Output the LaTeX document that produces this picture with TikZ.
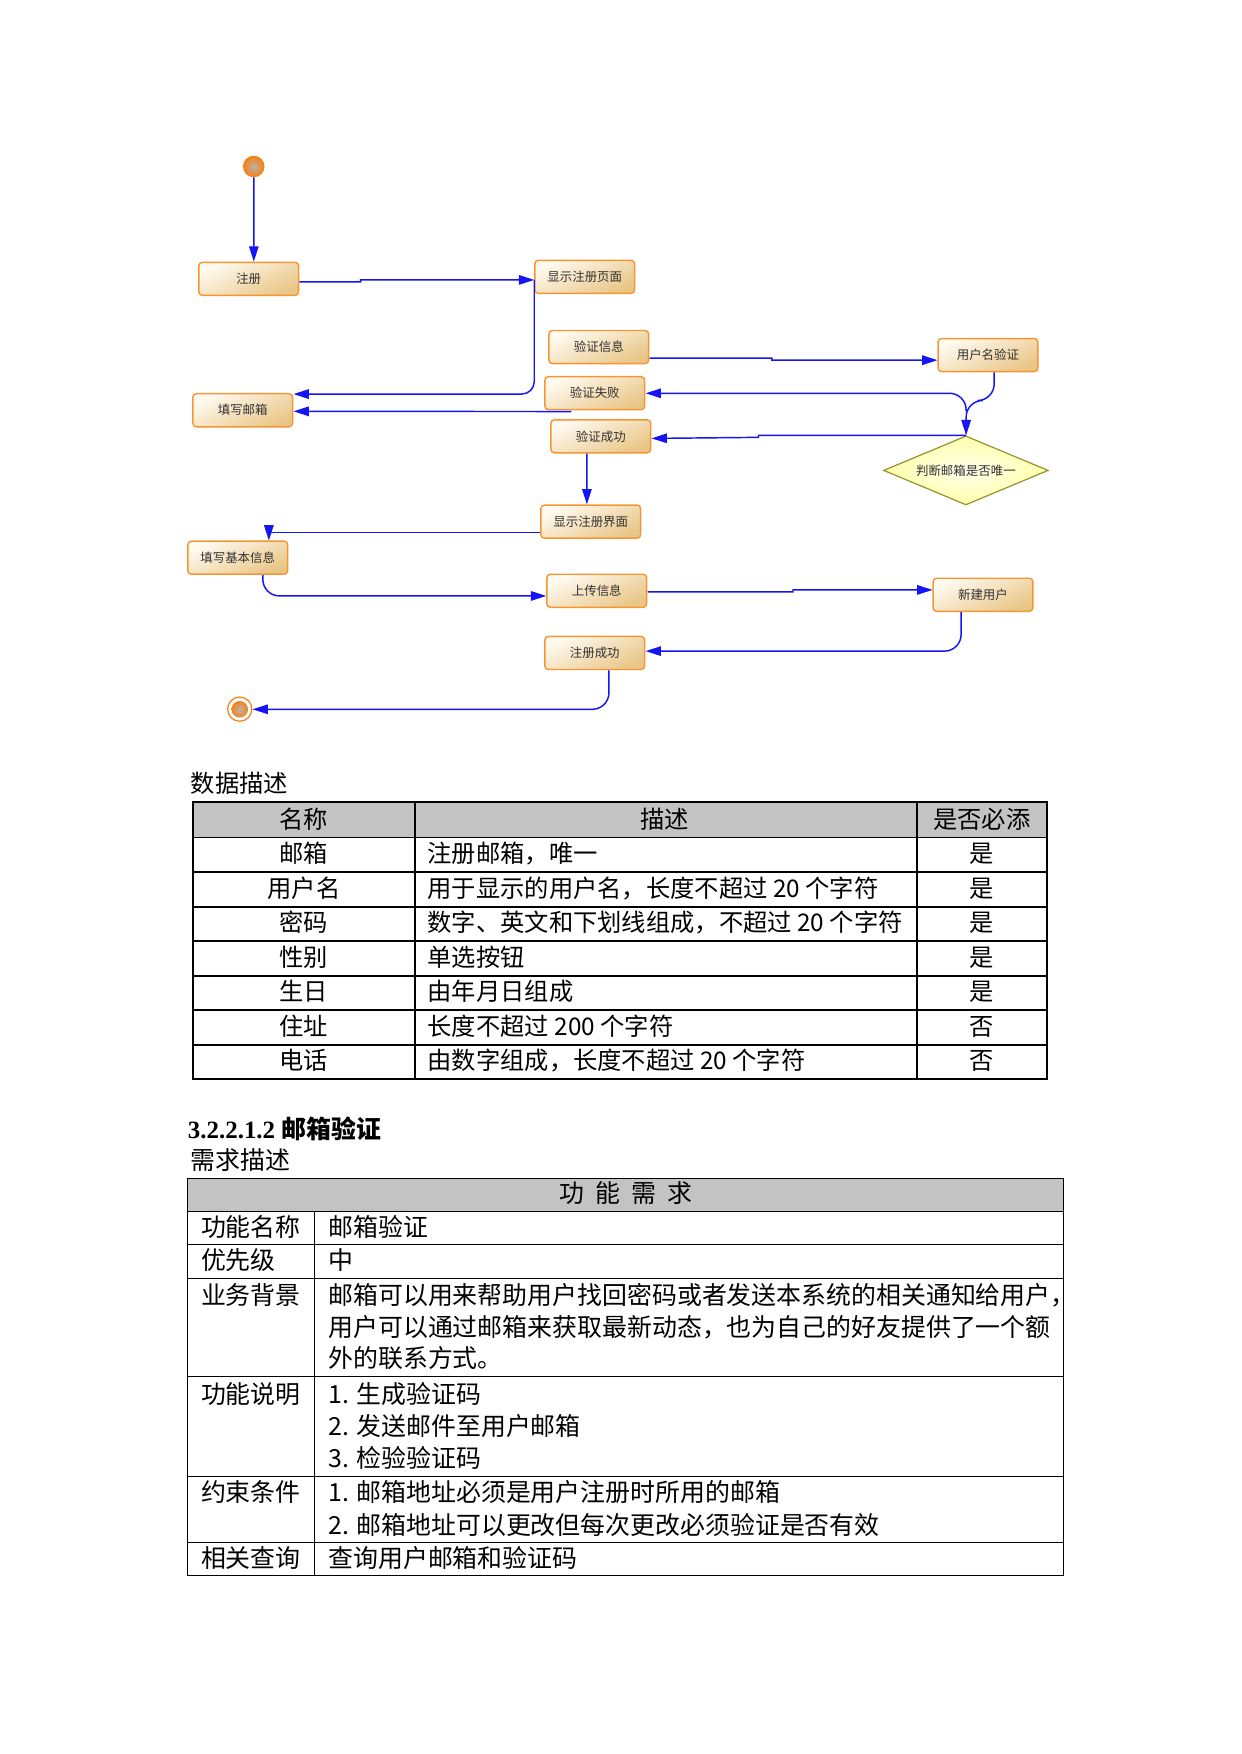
\documentclass[tikz,border=0pt]{standalone}
\usepackage{fontspec}
\setmainfont{Noto Sans CJK SC}
\newfontfamily\headnum{Liberation Serif}
\usetikzlibrary{shapes.geometric,arrows.meta,calc}

\definecolor{flowblue}{RGB}{20,20,245}
\definecolor{boxline}{RGB}{245,150,50}
\definecolor{boxtop}{RGB}{255,250,240}
\definecolor{boxbot}{RGB}{233,198,135}
\definecolor{boxtext}{RGB}{50,50,50}
\definecolor{choiceline}{RGB}{150,150,50}
\definecolor{choicein}{RGB}{255,255,235}
\definecolor{choiceout}{RGB}{255,255,170}
\definecolor{dotline}{RGB}{245,130,25}
\definecolor{dotin}{RGB}{185,178,170}
\definecolor{headgray}{RGB}{195,195,195}

\newcommand\boxfont{\fontsize{6}{7}\selectfont}
\newcommand\tabfont{\fontsize{11.7}{14}\selectfont}
\newcommand\reqfont{\fontsize{12}{14}\selectfont}

\tikzset{
  state/.style={draw=boxline, line width=0.7pt, rounded corners=0.6mm,
    top color=boxtop, bottom color=boxbot, shading angle=25,
    minimum width=16.9mm, minimum height=5.6mm, inner sep=0pt,
    font=\boxfont, text=boxtext},
  choice/.style={diamond, aspect=2.4, draw=choiceline, line width=0.6pt,
    inner color=choicein, outer color=choiceout,
    minimum width=27.9mm, minimum height=11.7mm, inner sep=0pt,
    font=\boxfont, text=boxtext},
  flow/.style={draw=flowblue, line width=0.7pt, -{Triangle[length=2.6mm,width=1.6mm]}},
  cell/.style={inner sep=0pt, font=\tabfont, text height=0.88em, text depth=0.12em},
  reqcell/.style={inner sep=0pt, font=\reqfont, text height=0.88em, text depth=0.12em},
}

\begin{document}
\begin{tikzpicture}[x=0.169333mm, y=-0.169333mm]
  \useasboundingbox (0,0) rectangle (1241,1754);
  \begin{scope}[scale=1.003]

  % activity diagram
  \node[circle, draw=dotline, line width=0.7pt, inner color=dotin, outer color=dotline,
    minimum size=3.4mm, inner sep=0pt] (init) at (253,166) {};
  \node[state] (reg) at (248,278) {注册};
  \node[state] (showpage) at (583,276) {显示注册页面};
  \node[state] (verify) at (597,346) {验证信息};
  \node[state] (uname) at (985,354) {用户名验证};
  \node[state] (fail) at (593,392) {验证失败};
  \node[state] (email) at (242,409) {填写邮箱};
  \node[state] (ok) at (599,435) {验证成功};
  \node[choice] (uniq) at (963,469) {判断邮箱是否唯一};
  \node[state] (showform) at (589,520) {显示注册界面};
  \node[state] (basic) at (237,556) {填写基本信息};
  \node[state] (upload) at (595,589) {上传信息};
  \node[state] (newuser) at (980,593) {新建用户};
  \node[state] (done) at (593,651) {注册成功};
  \node[circle, draw=dotline, line width=0.6pt, fill=white,
    minimum size=4.1mm, inner sep=0pt] (final) at (239,707) {};
  \node[circle, inner color=dotin, outer color=dotline,
    minimum size=2.8mm, inner sep=0pt] (finaldot) at (final) {};
  \coordinate (jn) at (963,410);

  \draw[flow] (init) -- (init |- reg.north);
  \draw[flow] ($(reg.east)+(0,3)$) -- ++(61,0) -- ++(0,-2) -- ($(showpage.west)+(0,3)$);
  \draw[flow, rounded corners=6] ($(showpage.west)+(0,3)$) |- ($(email.north east)+(0,1)$);
  \draw[flow] ($(fail.south west)+(27,1)$) -- ($(email.east)+(0,1)$);
  \draw[flow] ($(verify.east)+(0,11)$) -- ++(122,0) -- ++(0,2) -- ($(uname.west)+(0,5)$);
  \draw[flow, rounded corners=8] ($(uname.south)+(6,0)$) -- ++(0,28) -| (uniq.north);
  \draw[flow, rounded corners=8] (jn) |- (fail.east);
  \draw[flow] (uniq.north) -- ++(-207,0) -- ++(0,2) -- ($(ok.east)+(0,2)$);
  \draw[flow] ($(ok.south)+(-14,0)$) -- ($(showform.north)+(-4,0)$);
  \draw[flow] ($(showform.west)+(0,11)$) -| ($(basic.north)+(31,0)$);
  \draw[flow, rounded corners=8] ($(basic.south)+(25,0)$) |- ($(upload.west)+(0,5)$);
  \draw[flow] ($(upload.east)+(0,1)$) -- ++(145,0) -- ++(0,-2) -- ($(newuser.west)+(0,-5)$);
  \draw[flow, rounded corners=8] ($(newuser.south)+(-22,0)$) |- ($(done.east)+(0,-2)$);
  \draw[flow, rounded corners=8] ($(done.south)+(14,0)$) |- (final.east);

  % data table
  \node[cell, anchor=west] (datatitle) at (190,782) {数据描述};
  \fill[headgray] (192,800) rectangle (1044,835);
  \draw[line width=0.9pt] (192,800) rectangle (1044,1076);
  \draw[line width=0.9pt] (192,835) -- (1044,835);
  \foreach \k in {1,...,6}
    \draw[line width=0.9pt] (192,{835+34.43*\k}) -- (1044,{835+34.43*\k});
  \foreach \x in {414,914}
    \draw[line width=0.9pt] (\x,800) -- (\x,1076);
  \node[cell] (hname) at (303,818) {名称};
  \node[cell] (hdesc) at (663,818) {描述};
  \node[cell] (hreq) at (979,818) {是否必添};
  \foreach \nm/\ds/\rq [count=\i] in {
      邮箱/注册邮箱，唯一/是,
      用户名/用于显示的用户名，长度不超过 20 个字符/是,
      密码/数字、英文和下划线组成，不超过 20 个字符/是,
      性别/单选按钮/是,
      生日/由年月日组成/是,
      住址/长度不超过 200 个字符/否,
      电话/由数字组成，长度不超过 20 个字符/否} {
    \node[cell] (n\i) at (303,{835+34.43*(\i-0.5)}) {\nm};
    \node[cell, anchor=west] (d\i) at (426,{835+34.43*(\i-0.5)}) {\ds};
    \node[cell] (r\i) at (979,{835+34.43*(\i-0.5)}) {\rq};
  }

  % requirement table
  \node[reqcell, anchor=west] (sectitle) at (187,1127)
    {\headnum\bfseries 3.2.2.1.2 \rmfamily\bfseries 邮箱验证};
  \node[reqcell, anchor=west] (reqtitle) at (190,1158) {需求描述};
  \fill[headgray] (187,1175) rectangle (1060,1208);
  \draw[line width=0.5pt] (187,1175) rectangle (1060,1571);
  \foreach \y in {1208,1241,1275,1372,1472,1538}
    \draw[line width=0.5pt] (187,\y) -- (1060,\y);
  \draw[line width=0.5pt] (314,1208) -- (314,1571);
  \node[reqcell] (reqhead) at (624,1191)
    {功\hspace{.45em}能\hspace{.45em}需\hspace{.45em}求};
  \foreach \lb/\y [count=\i] in {功能名称/1225, 优先级/1258, 业务背景/1293,
      功能说明/1391, 约束条件/1489, 相关查询/1555}
    \node[reqcell, anchor=west] (k\i) at (200,\y) {\lb};
  \foreach \tx/\y [count=\i] in {
      邮箱验证/1225,
      中/1258,
      邮箱可以用来帮助用户找回密码或者发送本系统的相关通知给用户，/1293,
      用户可以通过邮箱来获取最新动态，也为自己的好友提供了一个额/1325,
      外的联系方式。/1356,
      1. 生成验证码/1391,
      2. 发送邮件至用户邮箱/1423,
      3. 检验验证码/1455,
      1. 邮箱地址必须是用户注册时所用的邮箱/1489,
      2. 邮箱地址可以更改但每次更改必须验证是否有效/1522,
      查询用户邮箱和验证码/1555}
    \node[reqcell, anchor=west] (v\i) at (327,\y) {\tx};
  \end{scope}
\end{tikzpicture}
\end{document}
